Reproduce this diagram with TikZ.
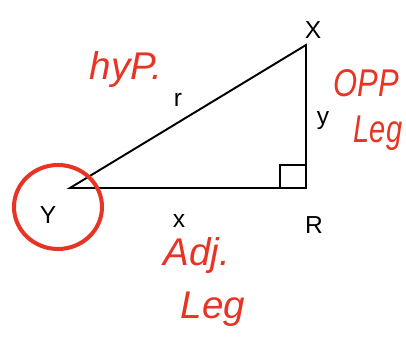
\documentclass[tikz,border=0pt]{standalone}
\usepackage{fontspec}
\setmainfont{Liberation Sans}
\usetikzlibrary{positioning}
\definecolor{pen}{RGB}{232,52,36}
\newcommand{\narrowink}[2]{\scalebox{#1}[1]{#2}}

\begin{document}
\begin{tikzpicture}[
            x=0.02cm, y=-0.02cm,
            lbl/.style={font=\fontsize{14}{16}\selectfont, inner sep=0pt},
            note/.style={text=pen, font=\fontsize{22}{24}\selectfont\itshape, inner sep=0pt, align=center},
            side/.style={line width=1.1pt}]

        \useasboundingbox (0,0) rectangle (406,337);

        \coordinate (Y) at (70,188);
        \coordinate (R) at (306,188);
        \coordinate (X) at (306,45);

        \draw[side, line join=miter] (Y) -- (R) -- (X) -- cycle;
        \draw[side] ([xshift=-0.52cm]R) |- ([yshift=0.46cm]R);

        \node[lbl] (lX) at (313,30) {X};
        \node[lbl] (lR) at (314,225) {R};
        \node[lbl] (lY) at (48,215) {Y};
        \node[lbl] (ly) at (323,121) {y};
        \node[lbl] (lr) at (178,100) {r};
        \node[lbl] (lx) at (179,221) {x};

        \draw[pen, line width=2.3pt] (58,207) ellipse [x radius=44, y radius=42];

        \node[note] (hyp) at (126,70) {hyP.};
        \node[note] (opp) at (366,83) {\narrowink{0.8}{OPP}};
        \node[note] (oleg) at (378,133) {\narrowink{0.75}{Leg}};
        \node[note] (adj) at (197,256) {Adj.};
        \node[note] (aleg) at (213,309) {Leg};

    \end{tikzpicture}
\end{document}
